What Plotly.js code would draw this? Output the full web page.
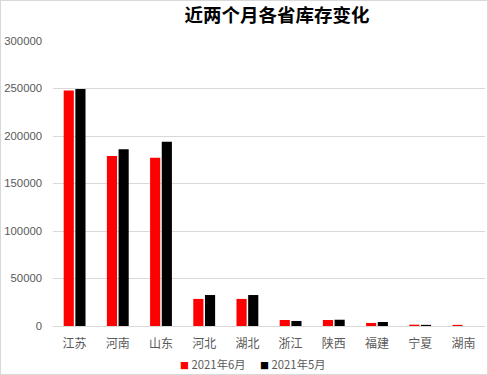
<!DOCTYPE html>
<html>
<head>
<meta charset="utf-8">
<script src="https://cdn.plot.ly/plotly-3.0.1.min.js"></script>
<style>
html,body{margin:0;padding:0;background:#fff;}
#wrap{position:relative;width:488px;height:375px;}
#chart{width:488px;height:375px;}
#frame{position:absolute;left:0;top:0;width:488px;height:375px;box-sizing:border-box;border:1px solid #d9d9d9;pointer-events:none;}
</style>
</head>
<body>
<div id="wrap"><div id="chart"></div><div id="frame"></div></div>
<script>
const provinces = ['江苏','河南','山东','河北','湖北','浙江','陕西','福建','宁夏','湖南'];
const june = [248000, 179000, 177000, 28500, 28500, 6300, 6300, 3200, 1400, 1200];
const may = [249500, 186000, 194000, 32600, 32600, 5300, 6600, 4200, 1200, 0];
const seriesNames = ['2021年6月','2021年5月'];
const seriesColors = ['#ff0000','#000000'];
const yTicks = [0, 50000, 100000, 150000, 200000, 250000, 300000];

const fontFam = 'Liberation Sans, Noto Sans CJK SC, sans-serif';
const cjk = 'Noto Sans CJK SC, sans-serif';
const data = [
  {type:'bar', name:seriesNames[0], x:provinces, y:june, marker:{color:seriesColors[0]}, showlegend:false},
  {type:'bar', name:seriesNames[1], x:provinces, y:may, marker:{color:seriesColors[1]}, showlegend:false}
];
// legend drawn as text annotations (colored square + label)
const legendX = [178, 258];
const annotations = seriesNames.map((n,i)=>({
  xref:'paper', yref:'paper', x:(legendX[i]-53)/432, y:(326-364)/285, xanchor:'left', yanchor:'middle',
  showarrow:false, align:'left',
  text:'<span style="color:'+seriesColors[i]+';font-size:9px">■</span> '+n,
  font:{family:cjk, size:11.3, color:'#595959'}
}));
const layout = {
  width:488, height:375,
  margin:{l:53, r:3, t:41, b:49, autoexpand:false},
  paper_bgcolor:'#fff', plot_bgcolor:'#fff',
  font:{family:fontFam, size:11, color:'#595959'},
  title:{text:'<b>近两个月各省库存变化</b>', x:277/488, xanchor:'center', y:1-15.5/375, yanchor:'middle',
         font:{family:cjk, size:18.5, color:'#000'}},
  barmode:'group', bargap:0.46, bargroupgap:0.13,
  xaxis:{type:'category', showgrid:false, showline:true, linecolor:'#d9d9d9', linewidth:1,
         ticks:'', ticklabelstandoff:7, tickfont:{family:cjk, size:12, color:'#595959'}},
  yaxis:{range:[0,300000], tickvals:yTicks, ticktext:yTicks.map(String), showgrid:true, gridcolor:'#d9d9d9',
         zeroline:false, showline:false, ticks:'', ticklabelstandoff:10,
         tickfont:{family:fontFam, size:11.3, color:'#595959'}},
  showlegend:false,
  annotations:annotations
};
Plotly.newPlot('chart', data, layout, {displayModeBar:false, staticPlot:true});
</script>
</body>
</html>
